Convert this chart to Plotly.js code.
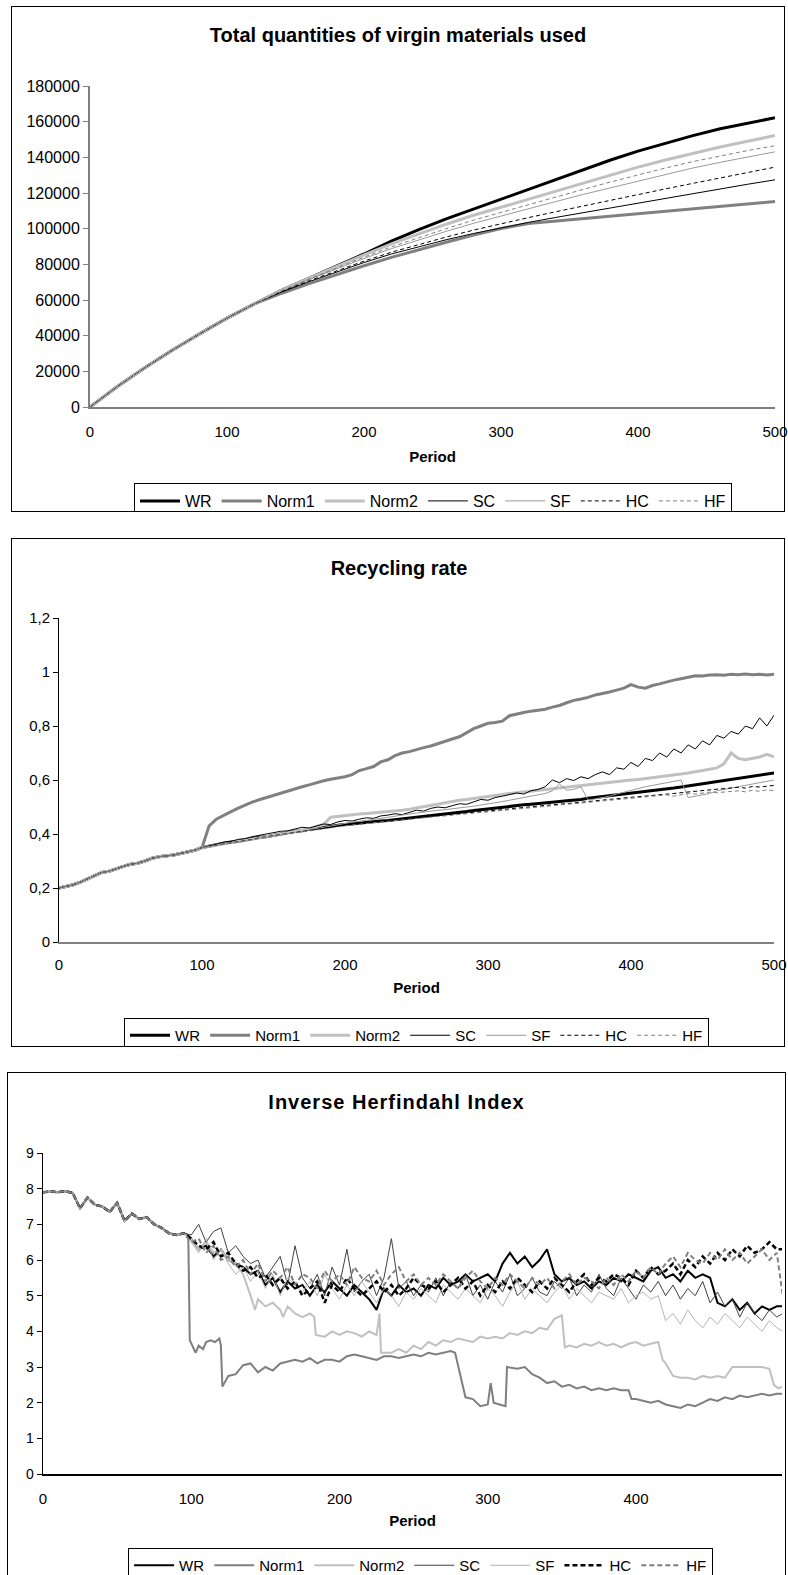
<!DOCTYPE html>
<html><head><meta charset="utf-8">
<script src="https://cdn.plot.ly/plotly-3.0.1.min.js"></script>
<style>
body{margin:0;background:#fff;width:788px;height:1575px;position:relative;overflow:hidden}
.plot{position:absolute;z-index:1}
.frame{position:absolute;border:1px solid #000;box-sizing:content-box;background:transparent;z-index:2;pointer-events:none}
#p3 .gtitle{letter-spacing:1px}
</style></head><body>
<div id="p1" class="plot" style="left:12px;top:7px;width:776px;height:504px"></div>
<div class="frame" style="left:11px;top:6px;width:772px;height:504px"></div>
<div id="p2" class="plot" style="left:12px;top:539px;width:776px;height:507px"></div>
<div class="frame" style="left:11px;top:538px;width:772px;height:507px"></div>
<div id="p3" class="plot" style="left:8px;top:1073px;width:777px;height:520px"></div>
<div class="frame" style="left:7px;top:1072px;width:777px;height:520px"></div>
<script>
// ---------- Chart 1: Total quantities of virgin materials used ----------
const vmPeriods = [0,20,40,60,80,100,120,140,160,180,200,220,240,260,280,300,320,340,360,380,400,420,440,460,480,500];
const vmCommon = [0,11500,22000,31800,41000,49800,57800];
const vmWR    = [...vmCommon,65500,72300,79000,85800,93000,99500,105500,111000,116500,122000,127500,133000,138500,143500,148000,152200,156000,159300,162200];
const vmNorm1 = [...vmCommon,63800,69200,74300,79200,83900,88300,92400,96400,100100,102900,104300,105700,107000,108400,109800,111200,112600,113900,115200];
const vmNorm2 = [...vmCommon,65500,72200,78800,85300,91500,97200,102500,107500,112000,116500,121000,125500,130000,134500,138500,142300,145800,149000,152200];
const vmSC    = [...vmCommon,64500,70300,75800,81000,85800,90000,93800,97300,100500,103500,106300,109000,111700,114400,117000,119700,122300,124900,127400];
const vmSF    = [...vmCommon,65200,71500,77500,83300,88800,93800,98500,103000,107200,111200,115200,119200,123000,126800,130500,134000,137200,140200,143100];
const vmHC    = [...vmCommon,64800,70800,76500,81800,86800,91200,95300,99200,102800,106200,109500,112800,116000,119200,122300,125400,128400,131500,134500];
const vmHF    = [...vmCommon,65300,71800,78000,84000,89800,95000,100000,104800,109200,113500,117800,122000,126200,130200,134000,137600,140800,143800,146500];

// ---------- Chart 2: Recycling rate ----------
const rrPeriods = [0,5,10,15,20,25,30,35,40,45,50,55,60,65,70,75,80,85,90,95,100,
  105,110,115,120,125,130,135,140,145,150,155,160,165,170,175,180,185,190,195,200,
  205,210,215,220,225,230,235,240,245,250,255,260,265,270,275,280,285,290,295,300,
  305,310,315,320,325,330,335,340,345,350,355,360,365,370,375,380,385,390,395,400,
  405,410,415,420,425,430,435,440,445,450,455,460,465,470,475,480,485,490,495,500];
const rrCommon = [0.200,0.205,0.212,0.222,0.235,0.245,0.258,0.262,0.272,0.280,0.288,0.292,0.300,0.310,0.316,0.318,0.322,0.328,0.335,0.340,0.350];
const rrWR = [...rrCommon,
  0.355,0.36,0.365,0.37,0.372,0.378,0.382,0.388,
  0.39,0.395,0.40,0.405,0.41,0.412,0.418,0.42,
  0.425,0.428,0.432,0.435,0.438,0.44,0.443,0.445,
  0.448,0.45,0.453,0.455,0.458,0.46,0.463,0.466,
  0.47,0.473,0.476,0.48,0.483,0.487,0.49,0.495,
  0.498,0.50,0.503,0.505,0.508,0.51,0.512,0.515,
  0.518,0.52,0.523,0.525,0.528,0.532,0.535,0.538,
  0.542,0.545,0.548,0.552,0.555,0.558,0.56,0.563,
  0.567,0.57,0.574,0.578,0.582,0.586,0.59,0.595,
  0.60,0.604,0.608,0.612,0.616,0.62,0.623,0.626];
const rrNorm1 = [...rrCommon,
  0.43,0.455,0.47,0.482,0.495,0.508,0.518,0.527,
  0.535,0.545,0.553,0.56,0.567,0.575,0.582,0.59,
  0.597,0.603,0.607,0.612,0.62,0.635,0.642,0.65,
  0.667,0.675,0.69,0.70,0.705,0.713,0.72,0.726,
  0.735,0.745,0.752,0.76,0.775,0.79,0.80,0.81,
  0.813,0.818,0.838,0.845,0.85,0.855,0.858,0.862,
  0.87,0.876,0.886,0.895,0.90,0.906,0.915,0.92,
  0.926,0.933,0.94,0.953,0.944,0.94,0.95,0.956,
  0.964,0.97,0.975,0.981,0.986,0.985,0.989,0.99,
  0.988,0.992,0.99,0.993,0.99,0.992,0.989,0.992];
const rrNorm2 = [...rrCommon,
  0.355,0.36,0.363,0.368,0.372,0.376,0.38,0.385,
  0.39,0.395,0.40,0.405,0.41,0.415,0.42,0.428,
  0.435,0.462,0.465,0.47,0.472,0.474,0.476,0.478,
  0.48,0.482,0.485,0.488,0.492,0.497,0.50,0.505,
  0.51,0.515,0.52,0.525,0.528,0.532,0.536,0.54,
  0.543,0.547,0.55,0.553,0.556,0.56,0.562,0.565,
  0.568,0.57,0.575,0.578,0.58,0.583,0.586,0.59,
  0.592,0.595,0.598,0.60,0.602,0.605,0.608,0.612,
  0.615,0.618,0.622,0.626,0.63,0.635,0.64,0.645,
  0.66,0.70,0.68,0.675,0.68,0.685,0.695,0.686];
const rrSC = [...rrCommon,
  0.355,0.362,0.37,0.372,0.38,0.383,0.39,0.395,
  0.398,0.405,0.41,0.412,0.418,0.425,0.422,0.43,
  0.437,0.435,0.445,0.45,0.448,0.455,0.46,0.458,
  0.467,0.47,0.475,0.472,0.48,0.488,0.485,0.495,
  0.50,0.497,0.505,0.512,0.51,0.52,0.528,0.525,
  0.535,0.54,0.545,0.552,0.548,0.56,0.565,0.575,
  0.60,0.59,0.605,0.598,0.612,0.605,0.62,0.63,
  0.62,0.645,0.64,0.665,0.65,0.68,0.672,0.70,
  0.685,0.715,0.70,0.73,0.715,0.745,0.73,0.765,
  0.755,0.78,0.77,0.80,0.79,0.83,0.80,0.84];
const rrSF = [...rrCommon,
  0.352,0.358,0.362,0.367,0.37,0.375,0.379,0.384,
  0.388,0.392,0.397,0.40,0.405,0.41,0.415,0.42,
  0.425,0.43,0.435,0.44,0.444,0.447,0.45,0.455,
  0.458,0.462,0.465,0.47,0.474,0.478,0.48,0.485,
  0.488,0.49,0.494,0.498,0.50,0.503,0.507,0.51,
  0.515,0.52,0.525,0.53,0.535,0.54,0.545,0.55,
  0.56,0.585,0.562,0.565,0.575,0.526,0.53,0.535,
  0.54,0.548,0.555,0.56,0.568,0.575,0.58,0.585,
  0.59,0.595,0.60,0.535,0.54,0.545,0.55,0.56,
  0.565,0.57,0.575,0.58,0.585,0.59,0.595,0.60];
const rrHC = [...rrCommon,
  0.354,0.36,0.364,0.368,0.372,0.376,0.38,0.386,
  0.39,0.394,0.398,0.402,0.406,0.41,0.415,0.418,
  0.422,0.426,0.43,0.433,0.436,0.44,0.443,0.446,
  0.448,0.45,0.453,0.456,0.458,0.46,0.463,0.466,
  0.468,0.47,0.473,0.476,0.478,0.48,0.483,0.486,
  0.488,0.49,0.493,0.496,0.498,0.50,0.503,0.506,
  0.508,0.51,0.513,0.516,0.518,0.52,0.523,0.526,
  0.528,0.53,0.533,0.536,0.538,0.54,0.543,0.546,
  0.548,0.55,0.553,0.556,0.558,0.56,0.563,0.566,
  0.568,0.57,0.573,0.57,0.576,0.574,0.578,0.58];
const rrHF = [...rrCommon,
  0.353,0.358,0.362,0.367,0.371,0.375,0.379,0.384,
  0.388,0.392,0.396,0.40,0.404,0.408,0.412,0.416,
  0.42,0.423,0.427,0.43,0.433,0.436,0.44,0.442,
  0.445,0.447,0.45,0.452,0.455,0.457,0.46,0.462,
  0.465,0.467,0.47,0.472,0.475,0.477,0.48,0.482,
  0.485,0.487,0.49,0.492,0.495,0.497,0.50,0.502,
  0.505,0.507,0.51,0.512,0.515,0.517,0.52,0.522,
  0.525,0.527,0.53,0.532,0.535,0.537,0.54,0.542,
  0.545,0.54,0.545,0.55,0.548,0.552,0.555,0.553,
  0.556,0.558,0.56,0.556,0.562,0.558,0.564,0.56];

// ---------- Chart 3: Inverse Herfindahl Index ----------
const ihCommonPeriods = [0,5,10,15,20,25,30,35,40,45,50,55,60,65,70,75,80,85,90,95];
const ihCommon = [7.9,7.92,7.9,7.93,7.88,7.45,7.75,7.55,7.5,7.35,7.6,7.1,7.3,7.15,7.2,7.0,6.9,6.75,6.7,6.75];
const ihPeriods = [100,105,110,115,120,125,130,135,140,145,150,155,160,165,170,175,180,185,190,195,
  200,205,210,215,220,225,230,235,240,245,250,255,260,265,270,275,280,285,290,295,
  300,305,310,315,320,325,330,335,340,345,350,355,360,365,370,375,380,385,390,395,
  400,405,410,415,420,425,430,435,440,445,450,455,460,465,470,475,480,485,490,495,499];
const ihWR = [
  6.6,6.3,6.4,6.1,6.3,6.0,5.9,5.8,
  5.6,5.7,5.3,5.5,5.1,5.4,5.2,5.3,
  5.0,5.3,5.1,5.4,5.2,5.0,5.3,5.1,
  4.9,4.6,5.2,5.0,5.3,5.1,5.2,5.0,
  5.3,5.2,5.5,5.3,5.4,5.6,5.4,5.5,
  5.6,5.4,5.9,6.2,5.9,6.1,5.8,6.0,
  6.3,5.6,5.4,5.5,5.3,5.4,5.2,5.4,
  5.3,5.5,5.4,5.6,5.5,5.4,5.7,5.8,
  5.5,5.6,5.4,5.7,5.5,5.6,5.5,4.8,
  4.7,4.9,4.6,4.8,4.5,4.7,4.6,4.7,4.7];
const ihSC = [
  6.7,7.0,6.5,6.8,6.9,6.2,6.4,6.1,
  5.9,6.0,5.5,5.8,6.1,5.3,6.4,5.5,
  5.2,5.6,5.0,5.8,5.3,6.3,5.1,5.4,
  5.6,5.0,5.5,6.6,5.2,5.4,5.0,5.3,
  5.1,5.5,5.0,5.4,5.2,5.6,5.0,5.3,
  4.9,5.4,5.1,5.6,5.0,5.2,5.5,5.1,
  5.0,5.4,5.2,5.5,5.0,5.3,5.1,5.6,
  5.2,5.0,5.5,5.2,4.9,5.3,5.1,5.4,
  5.0,5.3,4.9,5.2,5.0,5.4,4.8,5.1,
  4.7,4.9,4.4,4.8,4.5,4.3,4.6,4.4,4.5];
const ihSF = [
  6.5,6.2,6.6,6.0,6.3,5.9,5.6,5.8,
  5.4,5.7,5.2,5.6,5.0,5.5,5.3,5.1,
  5.4,5.0,5.6,5.2,4.9,5.3,5.0,5.4,
  5.1,4.8,5.2,5.0,4.7,5.1,4.9,5.2,
  5.0,4.8,5.3,5.1,4.9,5.2,5.0,4.8,
  5.2,5.0,4.7,5.1,5.4,4.9,5.2,5.0,
  4.8,5.1,5.3,4.9,5.2,5.0,4.8,5.1,
  5.0,4.9,5.2,4.8,5.0,5.1,4.9,5.0,
  4.3,4.5,4.2,4.6,4.3,4.1,4.4,4.2,
  4.5,4.3,4.1,4.4,4.2,4.0,4.3,4.1,4.0];
const ihHC = [
  6.6,6.4,6.3,6.5,6.1,6.2,5.9,5.7,
  5.8,5.5,5.6,5.3,5.5,5.2,5.4,5.0,
  5.2,5.4,4.8,5.3,5.1,5.5,5.2,5.0,
  5.2,5.4,5.1,5.3,5.0,5.2,5.5,5.3,
  5.2,5.4,5.1,5.3,5.5,5.2,5.4,5.0,
  5.3,5.1,5.4,5.2,5.5,5.3,5.1,5.4,
  5.2,5.5,5.3,5.1,5.4,5.6,5.3,5.5,
  5.4,5.6,5.5,5.3,5.7,5.5,5.8,5.6,
  5.7,5.9,5.6,6.0,5.8,6.1,5.9,6.2,
  6.0,6.3,6.1,6.4,6.2,6.3,6.5,6.3,6.3];
const ihHF = [
  6.5,6.6,6.2,6.4,6.0,6.1,5.8,6.0,
  5.6,5.9,5.4,5.7,5.5,5.8,5.3,5.6,
  5.5,5.2,5.7,5.4,5.6,5.3,5.8,5.5,
  5.4,5.7,5.3,5.6,5.8,5.4,5.6,5.3,
  5.5,5.3,5.6,5.4,5.2,5.5,5.7,5.4,
  5.2,5.5,5.3,5.6,5.4,5.2,5.5,5.3,
  5.5,5.2,5.4,5.6,5.3,5.5,5.4,5.2,
  5.5,5.3,5.6,5.4,5.7,5.5,5.8,5.6,
  5.9,6.1,5.8,6.2,6.0,5.9,6.2,6.0,
  6.3,6.0,6.2,5.9,6.1,6.3,6.0,6.2,5.0];
const ihNorm1Periods = [98,99,103,105,108,110,113,116,119,120,121,125,130,135,140,145,150,155,160,165,
  170,175,180,185,190,195,200,205,210,215,220,225,230,235,240,245,250,255,260,265,
  270,275,278,280,283,285,290,295,300,302,304,308,312,313,320,325,330,335,340,345,
  350,355,360,365,370,375,380,385,390,395,397,400,405,410,415,420,425,430,435,440,
  445,450,455,460,465,470,475,480,485,490,495,499];
const ihNorm1 = [6.7,3.75,3.4,3.6,3.5,3.7,3.75,3.7,3.8,3.6,2.45,2.75,2.8,3.05,3.1,2.85,3.0,2.9,3.1,3.15,
  3.2,3.15,3.25,3.1,3.2,3.2,3.15,3.3,3.35,3.3,3.25,3.2,3.3,3.3,3.25,3.3,3.35,3.3,3.4,3.35,
  3.4,3.45,3.4,3.0,2.5,2.15,2.1,1.9,1.95,2.55,2.0,1.95,1.9,3.0,2.95,3.0,2.8,2.7,2.55,2.6,
  2.45,2.5,2.4,2.45,2.35,2.4,2.35,2.4,2.35,2.35,2.1,2.1,2.05,2.0,2.05,1.95,1.9,1.85,1.95,1.9,
  2.0,2.1,2.05,2.15,2.1,2.2,2.15,2.2,2.25,2.2,2.25,2.25];
const ihNorm2Periods = [100,105,110,115,120,125,130,135,140,143,145,150,155,160,162,165,170,175,180,183,
  184,190,195,200,205,210,215,220,225,227,228,235,240,245,250,255,260,265,270,275,
  280,285,290,295,300,305,310,315,320,325,330,335,340,345,350,352,355,360,365,370,
  375,380,385,390,395,400,405,410,415,418,420,425,430,435,440,445,450,455,460,465,
  470,475,480,485,490,493,496,499];
const ihNorm2 = [6.6,6.3,6.5,6.2,6.3,6.0,5.9,5.6,5.0,4.6,4.9,4.7,4.8,4.6,4.4,4.7,4.5,4.4,4.5,4.4,
  3.9,3.85,4.0,3.9,4.0,3.95,3.85,4.0,3.9,4.5,3.4,3.4,3.5,3.4,3.6,3.5,3.7,3.6,3.75,3.7,
  3.8,3.75,3.7,3.85,3.8,3.85,3.8,3.95,3.9,4.0,3.95,4.1,4.05,4.35,4.45,3.55,3.6,3.55,3.65,3.6,
  3.7,3.6,3.65,3.55,3.65,3.7,3.6,3.65,3.7,3.2,3.1,2.75,2.7,2.7,2.65,2.75,2.7,2.75,2.7,3.0,
  3.0,3.0,3.0,3.0,2.95,2.5,2.4,2.45];

const seriesNames = ['WR','Norm1','Norm2','SC','SF','HC','HF'];

// ---------- build ----------
const FONT = 'Liberation Sans, Arial, Helvetica, sans-serif';

function tr(name, x, y, color, width, dash) {
  return {type:'scatter', mode:'lines', name:name, x:x, y:y,
    line:{color:color, width:width, dash:dash||'solid'}, hoverinfo:'skip'};
}

const st12 = {
  WR:['#000000',3,'solid'], Norm1:['#808080',3,'solid'], Norm2:['#c0c0c0',3,'solid'],
  SC:['#000000',1,'solid'], SF:['#9a9a9a',1,'solid'], HC:['#000000',1,'4px,3px'], HF:['#808080',1,'4px,3px']
};

function baseLayout(w, h, m, title, titleX, titleY, legendX, legendY, tickSize, legendSize) {
  return {
    width:w, height:h, margin:m, paper_bgcolor:'rgba(0,0,0,0)', plot_bgcolor:'rgba(0,0,0,0)',
    font:{family:FONT, color:'#000', size:tickSize},
    showlegend:true,
    title:{text:title, font:{family:FONT, size:20, weight:700, color:'#000'}, x:titleX, xanchor:'center', xref:'container', y:titleY, yanchor:'middle', yref:'container'},
    legend:{orientation:'h', xref:'container', yref:'container', x:legendX, xanchor:'center', y:legendY, yanchor:'top',
      bordercolor:'#000', borderwidth:1, bgcolor:'#fff', font:{family:FONT, size:legendSize, color:'#000'}, itemwidth:40, tracegroupgap:0}
  };
}

// chart 1  (plot area in page: x 90..775, y 86..406.7)
const vmData = {WR:vmWR, Norm1:vmNorm1, Norm2:vmNorm2, SC:vmSC, SF:vmSF, HC:vmHC, HF:vmHF};
const t1 = seriesNames.map(n => tr(n, vmPeriods, vmData[n], ...st12[n]));
const l1 = baseLayout(776, 504, {l:78, r:13, t:79, b:104.3, pad:0}, 'Total quantities of virgin materials used', 386/776, 1-28/504, 421/776, 1-476/504, 16, 16);
l1.xaxis = {range:[0,500], dtick:100, tick0:0, showline:true, linecolor:'#808080', linewidth:2, showgrid:false, zeroline:false,
  ticks:'', ticklabelstandoff:10, ticklabeloverflow:'allow', tickfont:{size:15}, title:{text:'Period', font:{size:15, weight:700}, standoff:12}, fixedrange:true};
l1.yaxis = {range:[0,180000], dtick:20000, tick0:0, tickformat:'d', showline:true, linecolor:'#808080', linewidth:2, showgrid:false, zeroline:false,
  ticks:'outside', ticklen:5, tickcolor:'#808080', tickwidth:1, tickfont:{size:16}, fixedrange:true};
Plotly.newPlot('p1', t1, l1, {staticPlot:true});

// chart 2  (plot area in page: x 59..774, y 618..942)
const rrData = {WR:rrWR, Norm1:rrNorm1, Norm2:rrNorm2, SC:rrSC, SF:rrSF, HC:rrHC, HF:rrHF};
const t2 = seriesNames.map(n => tr(n, rrPeriods, rrData[n], ...st12[n]));
const l2 = baseLayout(776, 507, {l:47, r:14, t:79, b:104, pad:0}, 'Recycling rate', 387/776, 1-29/507, 404.5/776, 1-479/507, 15, 15);
l2.separators = ', ';
l2.xaxis = {range:[0,500], dtick:100, tick0:0, showline:true, linecolor:'#808080', linewidth:2, showgrid:false, zeroline:false,
  ticks:'', ticklabelstandoff:8, ticklabeloverflow:'allow', tickfont:{size:15}, title:{text:'Period', font:{size:15, weight:700}, standoff:10}, fixedrange:true};
l2.yaxis = {range:[0,1.2], dtick:0.2, tick0:0, showline:true, linecolor:'#000', linewidth:1, showgrid:false, zeroline:false,
  ticks:'outside', ticklen:5, tickcolor:'#000', tickwidth:1, tickfont:{size:15}, fixedrange:true};
Plotly.newPlot('p2', t2, l2, {staticPlot:true});

// chart 3  (plot area in page: x 43..782, y 1153..1474)
const st3 = {
  WR:['#000000',2,'solid'], Norm1:['#7f7f7f',2,'solid'], Norm2:['#c0c0c0',2,'solid'],
  SC:['#404040',1,'solid'], SF:['#b4b4b4',1,'solid'], HC:['#000000',2.5,'5px,3px'], HF:['#808080',2,'5px,3px']
};
const ihData = {
  WR:[ihPeriods, ihWR], SC:[ihPeriods, ihSC], SF:[ihPeriods, ihSF], HC:[ihPeriods, ihHC], HF:[ihPeriods, ihHF],
  Norm1:[ihNorm1Periods, ihNorm1], Norm2:[ihNorm2Periods, ihNorm2]
};
const t3 = seriesNames.map(n => tr(n, [...ihCommonPeriods, ...ihData[n][0]], [...ihCommon, ...ihData[n][1]], ...st3[n]));
const l3 = baseLayout(777, 520, {l:35, r:3, t:80, b:119, pad:0}, 'Inverse Herfindahl Index', 0.5, 1-29/520, 0.531, 1-475/520, 14, 15);
l3.xaxis = {range:[0,498.5], dtick:100, tick0:0, showline:true, linecolor:'#000', linewidth:1.5, showgrid:false, zeroline:false,
  ticks:'', ticklabelstandoff:10, tickfont:{size:15}, title:{text:'Period', font:{size:15, weight:700}, standoff:10}, fixedrange:true};
l3.yaxis = {range:[0,9], dtick:1, tick0:0, showline:true, linecolor:'#000', linewidth:1.5, showgrid:false, zeroline:false,
  ticks:'outside', ticklen:5, tickcolor:'#000', tickwidth:1, tickfont:{size:14}, fixedrange:true};
Plotly.newPlot('p3', t3, l3, {staticPlot:true});
</script>
</body></html>
